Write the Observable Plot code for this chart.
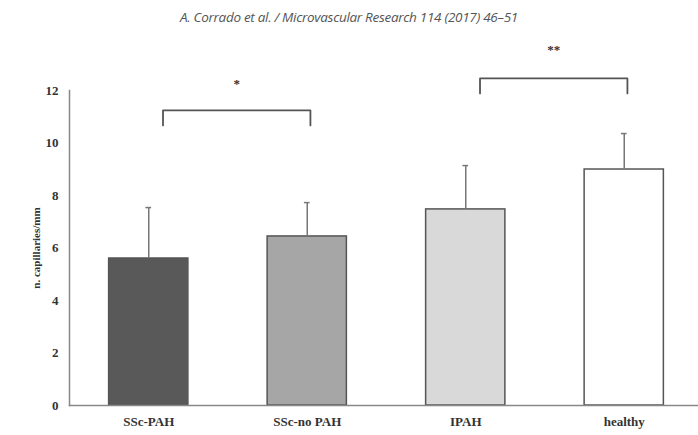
<!DOCTYPE html>
<html><head><meta charset="utf-8">
<script src="https://cdn.jsdelivr.net/npm/d3@7"></script>
<script src="https://cdn.jsdelivr.net/npm/@observablehq/plot@0.6"></script>
<style>
body{margin:0;background:#fff;}
#title{height:30px;line-height:34px;text-align:center;font-family:"Open Sans",sans-serif;font-style:italic;font-size:13.5px;color:#555;letter-spacing:-0.3px;}
</style></head>
<body>
<div id="title">A. Corrado et al. / Microvascular Research 114 (2017) 46–51</div>
<div id="chart"></div>
<script>
const categories = ["SSc-PAH", "SSc-no PAH", "IPAH", "healthy"];
const means = [5.6, 6.44, 7.47, 8.99];
const sds = [1.94, 1.29, 1.67, 1.37];
const fills = ["#595959", "#a6a6a6", "#d9d9d9", "#ffffff"];
const yTicks = [0, 2, 4, 6, 8, 10, 12];
const brackets = [
  {from: 0, to: 1, y: 11.24, leg: 10.67, label: "*", labelY: 12.25},
  {from: 2, to: 3, y: 12.46, leg: 11.89, label: "**", labelY: 13.55}
];

const data = categories.map((c, i) => ({i, c, mean: means[i], top: means[i] + sds[i], fill: fills[i]}));
const halfBar = 0.25, cap = 0.018, shiftL = 0.09, shiftR = 0.02;

const bracketLines = brackets.flatMap((b, k) => [
  {k, x: b.from + shiftL, y: b.leg},
  {k, x: b.from + shiftL, y: b.y},
  {k, x: b.to + shiftR, y: b.y},
  {k, x: b.to + shiftR, y: b.leg}
]);

const font = "'Liberation Serif', 'DejaVu Serif', serif";
const plot = Plot.plot({
  width: 698, height: 405,
  marginLeft: 69, marginRight: 0, marginTop: 60, marginBottom: 30,
  style: {fontFamily: font, fontSize: "12px", fontWeight: "bold", color: "#333", background: "#fff"},
  x: {type: "linear", domain: [-0.5, 3.5], range: [69, 703]},
  y: {domain: [0, 12]},
  marks: [
    Plot.rectY(data, {x1: d => d.i - halfBar, x2: d => d.i + halfBar, y1: 0, y2: "mean", fill: "fill", stroke: "#555", strokeWidth: 1.5}),
    Plot.ruleX(data, {x: "i", y1: "mean", y2: "top", stroke: "#777", strokeWidth: 1.5}),
    Plot.ruleY(data, {y: "top", x1: d => d.i - cap, x2: d => d.i + cap, stroke: "#777", strokeWidth: 1.5}),
    Plot.line(bracketLines, {x: "x", y: "y", z: "k", stroke: "#555", strokeWidth: 1.8, clip: false}),
    Plot.text(brackets, {x: b => (b.from + shiftL + b.to + shiftR) / 2, y: "labelY", text: "label", fontSize: 13, fill: "#333", clip: false}),
    Plot.frame({anchor: "left", stroke: "#888", strokeWidth: 1.5}),
    Plot.frame({anchor: "bottom", stroke: "#888", strokeWidth: 1.5}),
    Plot.axisY({ticks: yTicks, tickSize: 0, tickPadding: 11, label: null, fontSize: 13}),
    Plot.axisY({ticks: [], label: "n. capillaries/mm", labelAnchor: "center", labelArrow: "none", labelOffset: 37, fontSize: 11}),
    Plot.axisX({ticks: categories.map((c, i) => i), tickFormat: i => categories[i], tickSize: 0, tickPadding: 11, label: null, fontSize: 13})
  ]
});
document.getElementById("chart").appendChild(plot);
</script>
</body></html>
